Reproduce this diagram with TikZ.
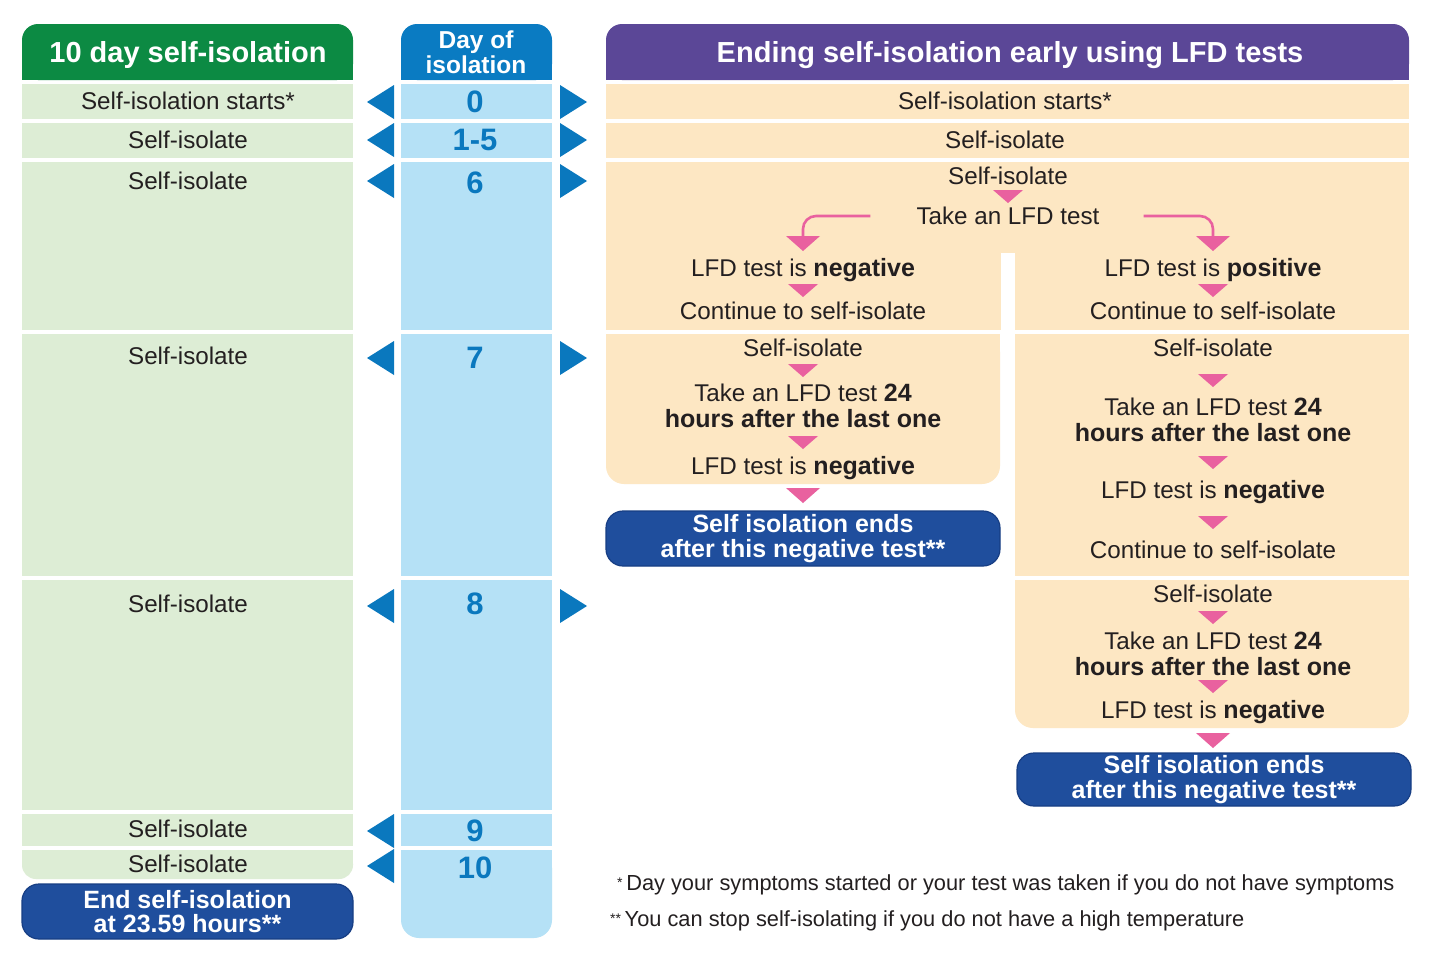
\documentclass[tikz,border=0pt]{standalone}
\usepackage{fontspec}
\setmainfont{Liberation Sans}
\definecolor{hgreen}{HTML}{0C8A43}
\definecolor{lgreen}{HTML}{DDEDD5}
\definecolor{hblue}{HTML}{0A7BC2}
\definecolor{lblue}{HTML}{B5E1F6}
\definecolor{numblue}{HTML}{0A78BE}
\definecolor{purp}{HTML}{5B4797}
\definecolor{peach}{HTML}{FDE7C3}
\definecolor{pinkc}{HTML}{E9619F}
\definecolor{navy}{HTML}{1F4E9D}
\definecolor{navyb}{HTML}{173E84}
\definecolor{ink}{HTML}{231F20}
\newcommand{\bb}[1]{{\fontsize{25}{25.5}\selectfont\bfseries #1}}
\tikzset{
  txt/.style={font=\fontsize{24.2}{25.5}\selectfont, text=ink, inner sep=0pt},
  hdr/.style={font=\bfseries\fontsize{29}{30}\selectfont, text=white, inner sep=0pt},
  num/.style={font=\bfseries\fontsize{31}{32}\selectfont, text=numblue, inner sep=0pt},
  endbox/.style={fill=navy, draw=navyb, line width=1.2pt, rounded corners=17pt, text=white,
     font=\bfseries\fontsize{25}{25.5}\selectfont, align=center, inner sep=0pt},
  foot/.style={font=\fontsize{21.8}{24}\selectfont, text=ink, inner sep=0pt, anchor=west},
  pline/.style={draw=pinkc, line width=2.6pt, rounded corners=13pt},
}
\newcommand{\ptri}[2]{\fill[pinkc,shift={(#1,#2)}] (-15,-6) -- (15,-6) -- (0,7) -- cycle;}
\newcommand{\btri}[2]{\fill[pinkc,shift={(#1,#2)}] (-17,-7) -- (17,-7) -- (0,8) -- cycle;}
\newcommand{\ltri}[1]{\fill[numblue,shift={(0,#1)}] (367,0) -- (394,-17) -- (394,17) -- cycle;}
\newcommand{\rtri}[1]{\fill[numblue,shift={(0,#1)}] (587,0) -- (560,-17) -- (560,17) -- cycle;}
\begin{document}
\begin{tikzpicture}[x=1pt,y=-1pt]
\useasboundingbox[fill=white] (0,0) rectangle (1432,978);
% ---------- headers
\fill[hgreen, rounded corners=16] (22,24) rectangle (353,80);
\fill[hgreen] (22,55) rectangle (353,80);
\fill[hblue, rounded corners=16] (401,24) rectangle (552,80);
\fill[hblue] (401,55) rectangle (552,80);
\fill[purp, rounded corners=16] (606,24) rectangle (1409,80);
\fill[purp] (606,55) rectangle (1409,80);
% ---------- left column
\fill[lgreen] (22,84) rectangle (353,119);
\fill[lgreen] (22,123) rectangle (353,158);
\fill[lgreen] (22,162) rectangle (353,330);
\fill[lgreen] (22,334) rectangle (353,576);
\fill[lgreen] (22,580) rectangle (353,810);
\fill[lgreen] (22,814) rectangle (353,846);
\fill[lgreen, rounded corners=14] (22,850) rectangle (353,879);
\fill[lgreen] (22,850) rectangle (353,864);
% ---------- day column
\fill[lblue] (401,84) rectangle (552,119);
\fill[lblue] (401,123) rectangle (552,158);
\fill[lblue] (401,162) rectangle (552,330);
\fill[lblue] (401,334) rectangle (552,576);
\fill[lblue] (401,580) rectangle (552,810);
\fill[lblue] (401,814) rectangle (552,846);
\fill[lblue, rounded corners=18] (401,850) rectangle (552,938);
\fill[lblue] (401,850) rectangle (552,880);
% ---------- right column
\fill[peach] (606,84) rectangle (1409,119);
\fill[peach] (606,123) rectangle (1409,158);
\fill[peach] (606,162) rectangle (1409,330);
\fill[white] (1001,253) rectangle (1015,331);
\fill[peach, rounded corners=18] (606,334) rectangle (1000,484);
\fill[peach] (606,334) rectangle (1000,440);
\fill[peach] (1015,334) rectangle (1409,576);
\fill[peach, rounded corners=18] (1015,580) rectangle (1409,728);
\fill[peach] (1015,580) rectangle (1409,680);
% ---------- blue side triangles
\ltri{102}\ltri{140}\ltri{181}\ltri{358}\ltri{606}\ltri{831}\ltri{866}
\rtri{102}\rtri{140}\rtri{181}\rtri{358}\rtri{606}
% ---------- header texts
\node[hdr] (h1) at (188,55) {10 day self-isolation};
\node[hdr, font=\bfseries\fontsize{24.5}{24.5}\selectfont, align=center] (h2) at (476,52) {Day of\\isolation};
\node[hdr] (h3) at (1010,55) {Ending self-isolation early using LFD tests};
% ---------- left texts
\node[txt] (l0) at (188,101) {Self-isolation starts*};
\node[txt] (l1) at (188,140) {Self-isolate};
\node[txt] (l2) at (188,181) {Self-isolate};
\node[txt] (l3) at (188,356) {Self-isolate};
\node[txt] (l4) at (188,604) {Self-isolate};
\node[txt] (l5) at (188,829) {Self-isolate};
\node[txt] (l6) at (188,864) {Self-isolate};
\node[endbox, minimum width=331pt, minimum height=55pt] (lend) at (187.5,911.5) {End self-isolation\\[-1pt]at 23.59 hours**};
% ---------- day numbers
\node[num] (d0) at (475,102) {0};
\node[num] (d1) at (475,140) {1-5};
\node[num] (d6) at (475,183) {6};
\node[num] (d7) at (475,358) {7};
\node[num] (d8) at (475,604) {8};
\node[num] (d9) at (475,831) {9};
\node[num] (d10) at (475,868) {10};
% ---------- right texts
\node[txt] (r0) at (1005,101) {Self-isolation starts*};
\node[txt] (r1) at (1005,140) {Self-isolate};
\node[txt] (r2) at (1008,176) {Self-isolate};
\ptri{1008}{196}
\node[txt] (take) at (1008,216) {Take an LFD test};
% branches
\coordinate (nt) at (803,236);
\coordinate (pt) at (1213,236);
\draw[pline] ([xshift=-46pt]take.west) -| (nt);
\draw[pline] ([xshift=44pt]take.east) -| (pt);
\btri{803}{243}
\btri{1213}{243}
\node[txt] (neg1) at (803,270) {LFD test is \bb{negative}};
\ptri{803}{290}
\node[txt] (cont1) at (803,311) {Continue to self-isolate};
\node[txt] (pos1) at (1213,270) {LFD test is \bb{positive}};
\ptri{1213}{290}
\node[txt] (cont2) at (1213,311) {Continue to self-isolate};
% day 7 left
\node[txt] (si7a) at (803,348) {Self-isolate};
\ptri{803}{370}
\node[txt, align=center] (take7a) at (803,406) {Take an LFD test \bb{24}\\\bb{hours after the last one}};
\ptri{803}{442}
\node[txt] (neg7a) at (803,468) {LFD test is \bb{negative}};
\btri{803}{495}
\node[endbox, minimum width=394pt, minimum height=55pt] (end1) at (803,538.5) {Self isolation ends\\[-1pt]after this negative test**};
% day 7 right
\node[txt] (si7b) at (1213,348) {Self-isolate};
\ptri{1213}{380}
\node[txt, align=center] (take7b) at (1213,420) {Take an LFD test \bb{24}\\\bb{hours after the last one}};
\ptri{1213}{462}
\node[txt] (neg7b) at (1213,492) {LFD test is \bb{negative}};
\ptri{1213}{522}
\node[txt] (cont7b) at (1213,550) {Continue to self-isolate};
% day 8 right
\node[txt] (si8) at (1213,594) {Self-isolate};
\ptri{1213}{617}
\node[txt, align=center] (take8) at (1213,654) {Take an LFD test \bb{24}\\\bb{hours after the last one}};
\ptri{1213}{686}
\node[txt] (neg8) at (1213,712) {LFD test is \bb{negative}};
\btri{1213}{740}
\node[endbox, minimum width=394pt, minimum height=53pt] (end2) at (1214,779.5) {Self isolation ends\\[-1pt]after this negative test**};
% ---------- footnotes
\node[foot] (f1) at (617,885) {\raisebox{3pt}{\fontsize{14}{14}\selectfont*}\,Day your symptoms started or your test was taken if you do not have symptoms};
\node[foot] (f2) at (610,921) {\raisebox{3pt}{\fontsize{14}{14}\selectfont**}\,You can stop self-isolating if you do not have a high temperature};
\end{tikzpicture}
\end{document}
